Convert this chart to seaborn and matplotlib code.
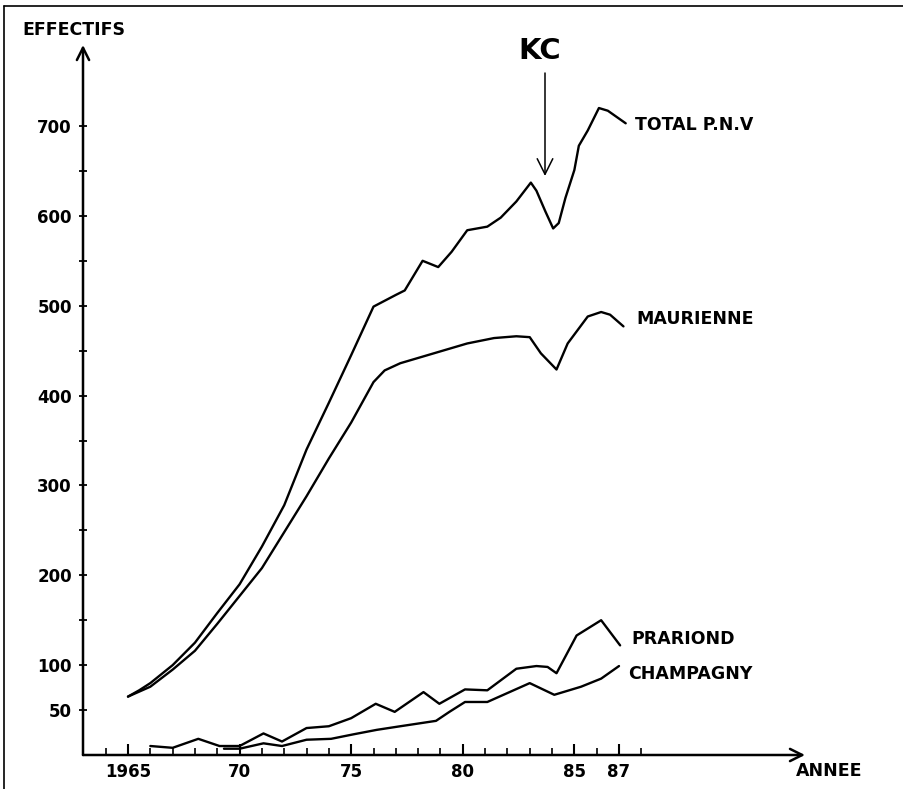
import numpy as np
import pandas as pd
import matplotlib
matplotlib.use("Agg")
import matplotlib.pyplot as plt
from matplotlib.lines import Line2D
import seaborn as sns

# ---- data ----
total_years = [1965.0, 1965.5, 1966.0, 1967.0, 1968.0, 1969.0, 1970.0, 1971.0, 1972.0,
               1973.0, 1974.0, 1975.0, 1976.0, 1977.0, 1977.4, 1978.2, 1978.9, 1979.5,
               1980.2, 1981.1, 1981.7, 1982.4, 1983.05, 1983.3, 1983.7, 1984.05, 1984.3,
               1984.6, 1985.0, 1985.2, 1985.6, 1986.1, 1986.5, 1987.3]
total_values = [65, 72, 80, 100, 125, 158, 190, 232, 278,
                340, 392, 445, 499, 512, 517, 550, 543, 560,
                584, 588, 598, 616, 637, 628, 605, 586, 592,
                620, 651, 678, 695, 720, 717, 703]

maurienne_years = [1965.0, 1966.0, 1967.0, 1968.0, 1969.0, 1970.0, 1971.0, 1972.0, 1973.0,
                   1974.0, 1975.0, 1976.0, 1976.5, 1977.2, 1978.7, 1980.2, 1981.4, 1982.4,
                   1983.0, 1983.5, 1984.2, 1984.7, 1985.6, 1986.2, 1986.6, 1987.2]
maurienne_values = [65, 76, 95, 116, 146, 177, 208, 248, 288,
                    330, 370, 415, 428, 436, 447, 458, 464, 466,
                    465, 447, 429, 458, 488, 493, 490, 477]

prariond_years = [1966.0, 1967.0, 1968.15, 1969.1, 1970.0, 1971.07, 1971.9, 1973.0, 1974.0,
                  1975.0, 1976.1, 1976.95, 1978.24, 1978.95, 1980.1, 1981.1, 1982.4, 1983.3,
                  1983.8, 1984.2, 1985.1, 1986.2, 1987.05]
prariond_values = [10, 8, 18, 10, 10, 24, 15, 30, 32,
                   41, 57, 48, 70, 57, 73, 72, 96, 99,
                   98, 91, 133, 150, 122]

champagny_years = [1969.3, 1970.0, 1971.07, 1971.9, 1973.0, 1974.1, 1975.1, 1976.15, 1977.2,
                   1978.8, 1979.4, 1980.1, 1981.1, 1983.0, 1984.1, 1985.3, 1986.2, 1987.0]
champagny_values = [7, 7, 13, 10, 17, 18, 23, 28, 32,
                    38, 48, 59, 59, 80, 67, 76, 85, 99]

series_names = ["TOTAL P.N.V", "MAURIENNE", "PRARIOND", "CHAMPAGNY"]
y_ticks = list(range(50, 701, 50))
y_labels = ["50", "100", "", "200", "", "300", "", "400", "", "500", "", "600", "", "700"]
x_major = [1965, 1970, 1975, 1980, 1985, 1987]
x_labels = ["1965", "70", "75", "80", "85", "87"]
x_minor = [y for y in range(1964, 1989) if y not in x_major]

frames = []
for name, xs, ys in zip(series_names,
                        [total_years, maurienne_years, prariond_years, champagny_years],
                        [total_values, maurienne_values, prariond_values, champagny_values]):
    frames.append(pd.DataFrame({"annee": xs, "effectif": ys, "serie": name}))
df = pd.concat(frames, ignore_index=True)

# ---- figure ----
sns.set_style("white")
plt.rcParams["font.family"] = ["DejaVu Sans"]
plt.rcParams["text.color"] = "black"
plt.rcParams["xtick.color"] = "black"
plt.rcParams["ytick.color"] = "black"
plt.rcParams["xtick.labelcolor"] = "black"
plt.rcParams["ytick.labelcolor"] = "black"

W, H = 904, 789
fig = plt.figure(figsize=(W / 100, H / 100), dpi=100)
ax_left, ax_right, ax_top, ax_bottom = 83, 805, 45, 755
ax = fig.add_axes([ax_left / W, 1 - ax_bottom / H, (ax_right - ax_left) / W, (ax_bottom - ax_top) / H])

px_per_year = (619 - 128) / 22.0
x0 = 1965 - (128 - ax_left) / px_per_year
x1 = 1965 + (ax_right - 128) / px_per_year
px_per_unit = (755 - 126) / 700.0
y1 = (ax_bottom - ax_top) / px_per_unit
ax.set_xlim(x0, x1)
ax.set_ylim(0, y1)

sns.lineplot(data=df, x="annee", y="effectif", hue="serie", units="serie", estimator=None,
             palette={n: "black" for n in series_names}, legend=False, linewidth=1.7,
             ax=ax, sort=True)

for s in ax.spines.values():
    s.set_visible(False)

# axis lines with open arrowheads
ax.annotate("", xy=(0, 1), xytext=(0, 0), xycoords="axes fraction",
            arrowprops=dict(arrowstyle="->", lw=1.8, color="black", mutation_scale=22,
                            shrinkA=0, shrinkB=0), annotation_clip=False)
ax.annotate("", xy=(1, 0), xytext=(0, 0), xycoords="axes fraction",
            arrowprops=dict(arrowstyle="->", lw=1.8, color="black", mutation_scale=22,
                            shrinkA=0, shrinkB=0), annotation_clip=False)

ax.set_yticks(y_ticks)
ax.set_yticklabels(y_labels)
ax.set_xticks(x_major)
ax.set_xticklabels(x_labels)
ax.set_xticks(x_minor, minor=True)
ax.tick_params(axis="y", which="major", direction="inout", length=6, width=1.3,
               left=True, pad=5, labelsize=12, color="black")
ax.tick_params(axis="x", which="major", direction="in", length=8, width=1.5,
               bottom=True, pad=6, labelsize=12, color="black")
ax.tick_params(axis="x", which="minor", direction="in", length=5, width=1.2,
               bottom=True, color="black")
for lab in ax.get_xticklabels() + ax.get_yticklabels():
    lab.set_fontweight("bold")
ax.set_xlabel("")
ax.set_ylabel("")

# series labels
label_pos = {"TOTAL P.N.V": (635, 125), "MAURIENNE": (636, 319),
             "PRARIOND": (631, 639), "CHAMPAGNY": (628, 674)}
for name, (px, py) in label_pos.items():
    fig.text(px / W, 1 - py / H, name, ha="left", va="center", fontsize=12.5,
             fontweight="bold", color="black")

fig.text(22 / W, 1 - 30 / H, "EFFECTIFS", ha="left", va="center", fontsize=12.5,
         fontweight="bold", color="black")
fig.text(796 / W, 1 - 771 / H, "ANNEE", ha="left", va="center", fontsize=12.5,
         fontweight="bold", color="black")

# KC arrow
kc_x = 1965 + (545 - 128) / px_per_year
ax.annotate("", xy=(kc_x, (ax_bottom - 176) / px_per_unit),
            xytext=(kc_x, (ax_bottom - 73) / px_per_unit),
            arrowprops=dict(arrowstyle="->", lw=1.1, color="black", mutation_scale=28,
                            shrinkA=0, shrinkB=0), annotation_clip=False)
fig.text(540 / W, 1 - 51 / H, "KC", ha="center", va="center", fontsize=21,
         family=["Liberation Sans Narrow", "DejaVu Sans"], fontweight="bold", color="black")

# page frame lines (left and top)
fig.add_artist(Line2D([4 / W, 4 / W], [0, 1 - 6 / H], color="black", lw=1.2))
fig.add_artist(Line2D([4 / W, 1], [1 - 6 / H, 1 - 6 / H], color="black", lw=1.2))

fig.savefig("out.png", dpi=100)
